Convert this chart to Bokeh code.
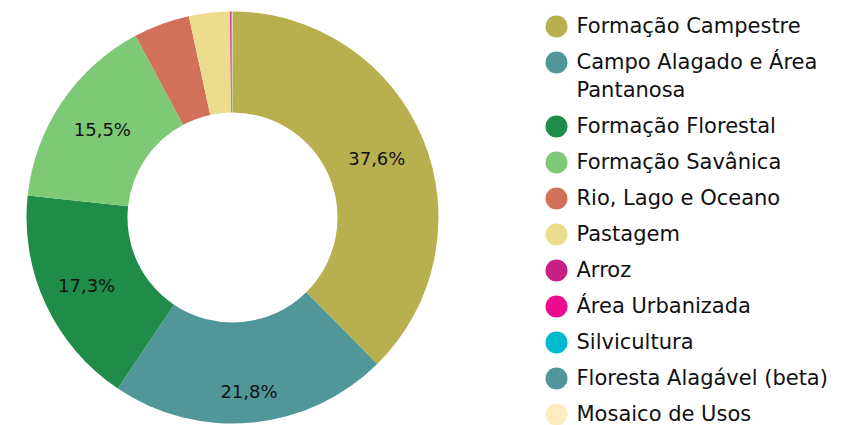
import math
from bokeh.plotting import figure
from bokeh.models import Range1d, ColumnDataSource
from bokeh.core.properties import value
from bokeh.embed import file_html
from bokeh.resources import INLINE

categories = ["Formação Campestre", "Campo Alagado e Área\nPantanosa", "Formação Florestal",
              "Formação Savânica", "Rio, Lago e Oceano", "Pastagem", "Arroz",
              "Área Urbanizada", "Silvicultura", "Floresta Alagável (beta)", "Mosaico de Usos"]
values = [37.6, 21.8, 17.3, 15.5, 4.4, 3.2, 0.06, 0.05, 0.02, 0.04, 0.03]
colors = ["#b8af4f", "#519799", "#1f8d49", "#7dc975", "#d1715a", "#ecdc8e", "#c71f85",
          "#ec0a8e", "#00bacd", "#519799", "#fdecc0"]

W, H = 860, 425
FONT = "DejaVu Sans"

p = figure(width=W, height=H, output_backend="svg", toolbar_location=None,
           x_range=Range1d(0, W), y_range=Range1d(0, H), min_border=0)
p.axis.visible = False
p.grid.visible = False
p.outline_line_color = None

cx, cy = 232, H - 217
R_out, R_in = 206, 105
label_r = [156, 175, 161, 157]  # label distance from centre (style)
total = sum(values)
starts, ends, lx, ly, labels = [], [], [], [], []
cum = 0.0
k = 0
for v in values:
    a0 = math.pi / 2 - 2 * math.pi * cum / total
    cum += v
    a1 = math.pi / 2 - 2 * math.pi * cum / total
    starts.append(a0)
    ends.append(a1)
    if v / total >= 0.05:
        mid = (a0 + a1) / 2
        rm = label_r[k] if k < len(label_r) else (R_out + R_in) / 2
        k += 1
        lx.append(cx + rm * math.cos(mid))
        ly.append(cy + rm * math.sin(mid))
        labels.append(f"{v:.1f}%".replace(".", ","))

src = ColumnDataSource(dict(start=starts, end=ends, color=colors))
p.annular_wedge(x=cx, y=cy, inner_radius=R_in, outer_radius=R_out,
                inner_radius_units="screen", outer_radius_units="screen",
                start_angle="start", end_angle="end", direction="clock",
                fill_color="color", line_color=None, source=src)

p.text(x=lx, y=ly, text=labels, text_align="center", text_baseline="middle",
       text_font=value(FONT), text_font_size="18px", text_color="#111111")

# legend
ys = []
y = H - 26
for c in categories:
    ys.append(y)
    y -= 36 + (28 if "\n" in c else 0)
p.scatter(x=[556] * len(ys), y=ys, size=22, marker="circle", fill_color=colors, line_color=None)
p.text(x=[576] * len(ys), y=[v + 12.5 for v in ys], text=categories, text_align="left",
       text_baseline="top", text_font=value(FONT), text_font_size="21px",
       text_color="#111111", text_line_height=1.15)

open("out.html", "w").write(file_html(p, INLINE))
